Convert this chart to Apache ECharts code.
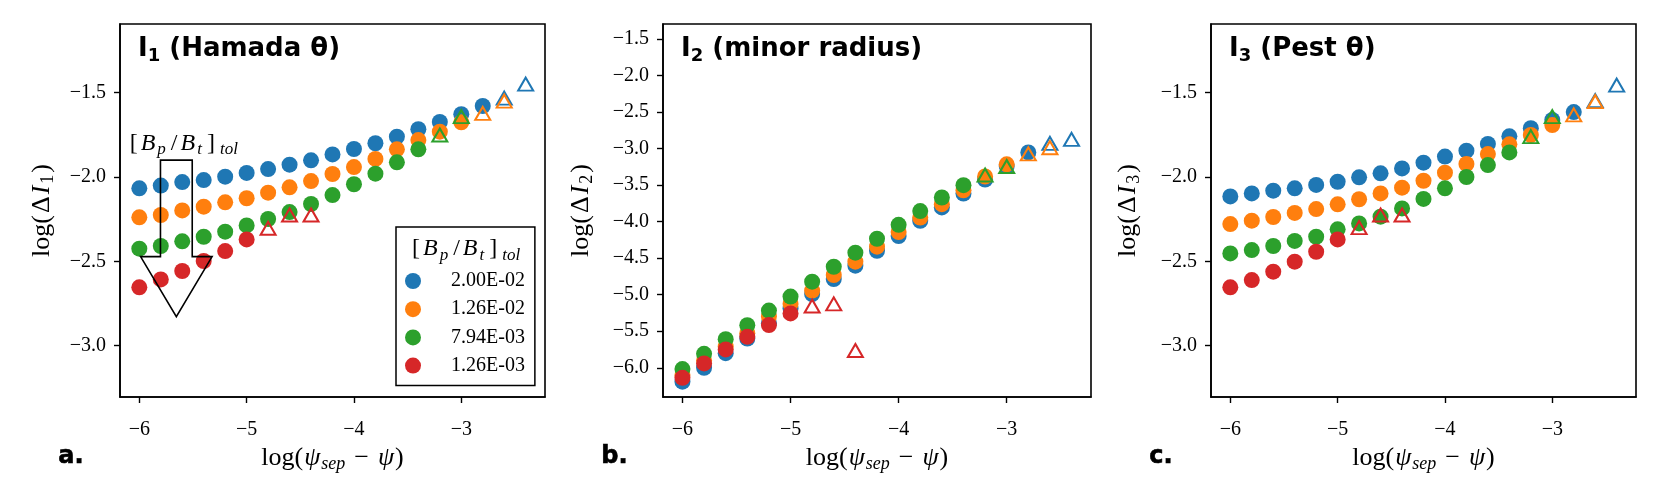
<!DOCTYPE html>
<html><head><meta charset="utf-8">
<script src="https://cdn.jsdelivr.net/npm/echarts@6/dist/echarts.min.js"></script>
<style>html,body{margin:0;padding:0;background:#fff}#c{width:1661px;height:498px}</style>
</head><body><div id="c"></div>
<script>
// ---------------- DATA ----------------
const xVals = [-6,-5.8,-5.6,-5.4,-5.2,-5.0,-4.8,-4.6,-4.4,-4.2,-4.0,-3.8,-3.6,-3.4,-3.2,-3.0,-2.8,-2.6,-2.4];
const seriesNames = ['2.00E-02','1.26E-02','7.94E-03','1.26E-03'];
// number of leading points drawn as filled circles; remaining points are open triangles
const nCircle = [17, 16, 14, 6];

// Panel a: I1 (Hamada theta)
const a_blue   = [-2.067,-2.051,-2.030,-2.018,-1.998,-1.976,-1.953,-1.927,-1.901,-1.866,-1.834,-1.800,-1.761,-1.717,-1.674,-1.628,-1.579,-1.532,-1.449];
const a_orange = [-2.239,-2.225,-2.198,-2.176,-2.150,-2.126,-2.093,-2.061,-2.024,-1.982,-1.941,-1.893,-1.836,-1.781,-1.731,-1.676,-1.623,-1.550];
const a_green  = [-2.425,-2.409,-2.381,-2.354,-2.324,-2.287,-2.249,-2.208,-2.160,-2.107,-2.043,-1.980,-1.913,-1.836,-1.751,-1.642];
const a_red    = [-2.654,-2.607,-2.557,-2.498,-2.439,-2.370,-2.304,-2.225,-2.225];

// Panel b: I2 (minor radius)
const b_blue   = [-6.19,-6.00,-5.80,-5.60,-5.39,-5.19,-4.99,-4.785,-4.603,-4.398,-4.198,-3.988,-3.806,-3.615,-3.424,-3.24,-3.052,-2.929,-2.874];
const b_orange = [-6.10,-5.90,-5.71,-5.527,-5.299,-5.126,-4.944,-4.730,-4.548,-4.343,-4.143,-3.943,-3.761,-3.570,-3.382,-3.216,-3.072,-2.988];
const b_green  = [-6.018,-5.809,-5.609,-5.418,-5.217,-5.026,-4.821,-4.617,-4.425,-4.234,-4.043,-3.856,-3.670,-3.501,-3.362,-3.245];
const b_red    = [-6.137,-5.941,-5.749,-5.576,-5.416,-5.256,-5.154,-5.126,-5.764];

// Panel c: I3 (Pest theta)
const c_blue   = [-2.115,-2.097,-2.081,-2.067,-2.047,-2.028,-2.002,-1.978,-1.949,-1.915,-1.879,-1.844,-1.804,-1.759,-1.711,-1.662,-1.615,-1.547,-1.455];
const c_orange = [-2.279,-2.259,-2.237,-2.213,-2.190,-2.162,-2.132,-2.097,-2.063,-2.022,-1.974,-1.923,-1.864,-1.806,-1.751,-1.692,-1.632,-1.553];
const c_green  = [-2.453,-2.433,-2.409,-2.379,-2.354,-2.310,-2.275,-2.235,-2.186,-2.130,-2.067,-2.000,-1.929,-1.854,-1.761,-1.642];
const c_red    = [-2.654,-2.611,-2.561,-2.502,-2.443,-2.370,-2.300,-2.225,-2.225];

const xTicks = [-6,-5,-4,-3];
const yTicksAC = [-3.0,-2.5,-2.0,-1.5];
const yTicksB = [-6.0,-5.5,-5.0,-4.5,-4.0,-3.5,-3.0,-2.5,-2.0,-1.5];

// arrow annotation in panel a (data units): [centerX, shaftHalfWidth, headHalfWidth, yTop, yHeadBase, yTip]
const arrowSpec = [-5.655, 0.148, 0.333, -1.90, -2.472, -2.828];
const arrowLabelPos = [-5.595, -1.80];

// ---------------- STYLE ----------------
const colors = ['#1f77b4','#ff7f0e','#2ca02c','#d62728'];
const SERIF = 'Liberation Serif';
const SANS = 'DejaVu Sans';

const panels = [
  {vals:[a_blue,a_orange,a_green,a_red], yMin:-3.304, yMax:-1.093, yTicks:yTicksAC, sub:'1', title:' (Hamada θ)', left:120, width:425, letter:'a.', yGap:63},
  {vals:[b_blue,b_orange,b_green,b_red], yMin:-6.40, yMax:-1.295, yTicks:yTicksB, sub:'2', title:' (minor radius)', left:663, width:428, letter:'b.', yGap:67},
  {vals:[c_blue,c_orange,c_green,c_red], yMin:-3.304, yMax:-1.093, yTicks:yTicksAC, sub:'3', title:' (Pest θ)', left:1211, width:425, letter:'c.', yGap:68}
];
const TOP = 24, HEIGHT = 373;

const fmt = d => v => (v < 0 ? '\u2212' : '') + Math.abs(v).toFixed(d);

const mathRich = {
  n: {fontFamily: SERIF, fontSize: 26, color:'#000', lineHeight: 30},
  d: {fontFamily: SERIF, fontSize: 26, color:'#000', lineHeight: 30, padding:[0,1,0,2]},
  o: {fontFamily: SERIF, fontSize: 26, color:'#000', lineHeight: 30, padding:[0,8,0,8]},
  i: {fontFamily: SERIF, fontSize: 26, fontStyle:'italic', color:'#000', lineHeight: 30, padding:[0,1,0,1]},
  s: {fontFamily: SERIF, fontSize: 18, fontStyle:'italic', color:'#000', lineHeight: 14, verticalAlign:'bottom', padding:[0,1,0,0]},
  r: {fontFamily: SERIF, fontSize: 18, color:'#000', lineHeight: 14, verticalAlign:'bottom', padding:[0,2,0,1]}
};
const bracketRich = {
  n:{fontFamily:SERIF, fontSize:24, fill:'#000', lineHeight:30, padding:[0,2,0,2]},
  i:{fontFamily:SERIF, fontSize:24, fontStyle:'italic', fill:'#000', lineHeight:30, padding:[0,1,0,1]},
  s:{fontFamily:SERIF, fontSize:17, fontStyle:'italic', fill:'#000', lineHeight:14, verticalAlign:'bottom', padding:[0,3,0,1]},
  t:{fontFamily:SERIF, fontSize:17, fontStyle:'italic', fill:'#000', lineHeight:14, verticalAlign:'bottom', padding:[0,0,0,3]}
};
const bracketText = '{n|[}{i|B}{s|p}{n|/}{i|B}{s|t}{n|]}{t|tol}';

const grids = [], xAxes = [], yAxes = [], series = [], titles = [], graphics = [];
panels.forEach((p, pi) => {
  grids.push({left:p.left, top:TOP, width:p.width, height:HEIGHT, show:true, borderColor:'#000', borderWidth:1.6, backgroundColor:'transparent'});
  xAxes.push({
    type:'value', gridIndex:pi, min:-6.18, max:-2.22,
    axisLine:{show:true, onZero:false, lineStyle:{color:'#000', width:1.6}},
    axisTick:{show:true, length:6, lineStyle:{color:'#000', width:1.4}, customValues:xTicks},
    axisLabel:{customValues:xTicks, formatter:fmt(0), fontFamily:SERIF, fontSize:20, color:'#000', margin:23},
    splitLine:{show:false},
    name:'{n|log(}{i|ψ}{s|sep}{o|−}{i|ψ}{n|)}', nameLocation:'middle', nameGap:43,
    nameTextStyle:{rich:mathRich}
  });
  yAxes.push({
    type:'value', gridIndex:pi, min:p.yMin, max:p.yMax,
    axisLine:{show:true, onZero:false, lineStyle:{color:'#000', width:1.6}},
    axisTick:{show:true, length:6, lineStyle:{color:'#000', width:1.4}, customValues:p.yTicks},
    axisLabel:{customValues:p.yTicks, formatter:fmt(1), fontFamily:SERIF, fontSize:20, color:'#000', margin:14},
    splitLine:{show:false},
    name:'{n|log(}{d|Δ}{i|I}{r|' + p.sub + '}{n|)}', nameLocation:'middle', nameRotate:90, nameGap:p.yGap,
    nameTextStyle:{rich:mathRich}
  });
  p.vals.forEach((vals, si) => {
    const nc = nCircle[si];
    series.push({
      type:'scatter', name:seriesNames[si], xAxisIndex:pi, yAxisIndex:pi,
      symbol:'circle', symbolSize:16,
      itemStyle:{color:colors[si], opacity:1},
      emphasis:{disabled:true},
      data: vals.slice(0, nc).map((v,k) => [xVals[k], v])
    });
    series.push({
      type:'scatter', name:seriesNames[si] + ' ', xAxisIndex:pi, yAxisIndex:pi,
      symbol:'triangle', symbolSize:[15,13],
      itemStyle:{color:'rgba(0,0,0,0)', borderColor:colors[si], borderWidth:2, opacity:1},
      emphasis:{disabled:true},
      data: vals.slice(nc).map((v,k) => [xVals[k + nc], v])
    });
  });
  titles.push({
    text:'{b|I}{s|' + p.sub + '}{b|' + p.title + '}', left:p.left + 13, top:28,
    textStyle:{rich:{
      b:{fontFamily:SANS, fontWeight:'bold', fontSize:26, color:'#000', lineHeight:32},
      s:{fontFamily:SANS, fontWeight:'bold', fontSize:18, color:'#000', lineHeight:16, verticalAlign:'bottom'}
    }}
  });
  graphics.push({type:'text', left:p.left - 62, top:444, style:{text:p.letter, font:'bold 24px "DejaVu Sans"', fill:'#000', stroke:'#000', lineWidth:0.6}});
});

// arrow annotation (custom series on panel a)
series.push({
  type:'custom', name:'arrow', xAxisIndex:0, yAxisIndex:0, z:10, silent:true,
  data:[0],
  renderItem(params, api) {
    const [cx, sh, hh, yT, yB, yTip] = arrowSpec;
    const pts = [[cx-sh,yT],[cx+sh,yT],[cx+sh,yB],[cx+hh,yB],[cx,yTip],[cx-hh,yB],[cx-sh,yB]].map(q => api.coord(q));
    const lp = api.coord(arrowLabelPos);
    return {type:'group', children:[
      {type:'polygon', shape:{points:pts}, style:{fill:'none', stroke:'#000', lineWidth:1.6}},
      {type:'text', x:lp[0], y:lp[1], style:{text:bracketText, align:'center', verticalAlign:'middle', rich:bracketRich}}
    ]};
  }
});

// legend title text
graphics.push({type:'text', z:100, left:410, top:237, style:{text:bracketText, rich:bracketRich}});

const chart = echarts.init(document.getElementById('c'), null, {renderer:'canvas'});
chart.setOption({
  animation:false,
  backgroundColor:'#fff',
  textStyle:{fontFamily:SERIF},
  grid:grids, xAxis:xAxes, yAxis:yAxes, title:titles,
  legend:{
    data:seriesNames, orient:'vertical', left:396, top:227,
    padding:[44,10,10,9], itemWidth:16, itemHeight:16, itemGap:8.2, icon:'circle',
    borderColor:'#000', borderWidth:1.5, backgroundColor:'#fff', borderRadius:0, z:50,
    selectedMode:false,
    textStyle:{fontFamily:SERIF, fontSize:20, color:'#000', padding:[0,0,0,25]}
  },
  series:series,
  graphic:graphics
});
</script></body></html>
